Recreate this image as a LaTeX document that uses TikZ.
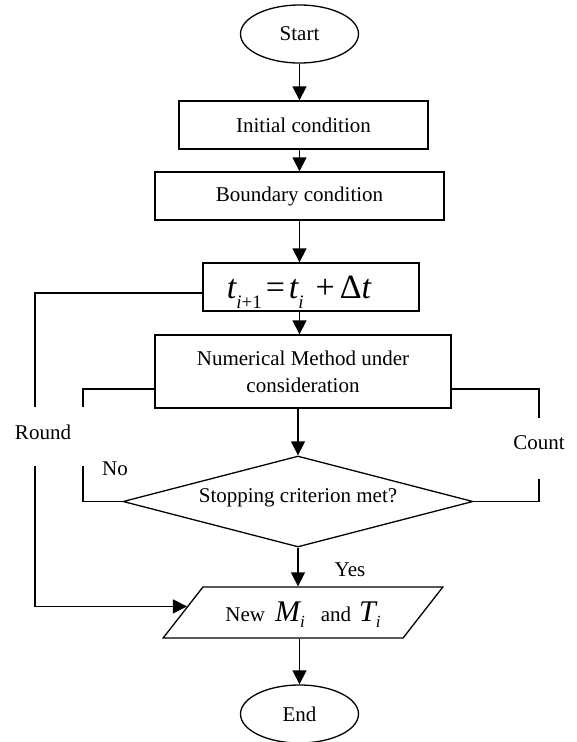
\documentclass[tikz,border=0pt]{standalone}
\usepackage{fontspec}
\setmainfont{Liberation Serif}
\usetikzlibrary{shapes.geometric,arrows.meta}
\begin{document}
\begin{tikzpicture}[x=1pt,y=-1pt,
  every node/.style={font=\fontsize{21}{27}\selectfont, inner sep=0pt},
  ln/.style={line width=1.3pt},
  arr/.style={ln, -{Triangle[width=14pt,length=14pt]}},
  term/.style={draw, ln, ellipse, minimum width=118pt, minimum height=58pt},
  procbox/.style={draw, ln, rectangle, align=center, minimum height=48pt},
  lbl/.style={},
  ]
\useasboundingbox (0,0) rectangle (576,742);
% nodes
\node[term] (start) at (299.5,34) {Start};
\node[procbox, minimum width=249pt] (init) at (303.5,125) {Initial condition};
\node[procbox, minimum width=289pt] (bound) at (299.5,196) {Boundary condition};
\node[procbox, minimum width=216pt, text height=26pt, text depth=3pt] (tbox) at (311,287)
  {{\fontsize{34}{34}\selectfont\itshape t\raisebox{-10pt}{\fontsize{19}{19}\selectfont i\upshape+1}\hspace{4pt}\upshape=\hspace{4pt}\itshape t\raisebox{-10pt}{\fontsize{19}{19}\selectfont i}\hspace{12pt}\upshape+\hspace{5pt}Δ\itshape t}\hspace{24pt}};
\node[procbox, minimum width=296pt, minimum height=73pt] (num) at (303,371.5) {Numerical Method under\\consideration};
\node[draw, ln, diamond, aspect=3.8, minimum width=350pt, minimum height=91pt, text height=10pt, text depth=9pt] (diam) at (298,501.5) {Stopping criterion met?};
\node[draw, ln, trapezium, trapezium stretches=true, trapezium left angle=35.5, trapezium right angle=144.5, minimum width=280pt, minimum height=51pt, text height=20pt, text depth=2pt] (para) at (303,612.5)
  {New\hspace{10pt}{\fontsize{30}{30}\selectfont\itshape M}\raisebox{-6pt}{\fontsize{17}{17}\selectfont\itshape i}\hspace{16pt}and\hspace{8pt}{\fontsize{30}{30}\selectfont\itshape T}\raisebox{-6pt}{\fontsize{17}{17}\selectfont\itshape i}\hspace{6pt}};
\node[term] (end) at (299.5,714) {End};
% labels
\node[lbl] (round) at (43,432) {Round};
\node[lbl] (count) at (539,443) {Count};
\node[lbl] (no) at (115,469) {No};
\node[lbl] (yes) at (350,570) {Yes};
% gap coordinates
\coordinate (ra) at (35,407);
\coordinate (rb) at (35,466);
\coordinate (na) at (83,407);
\coordinate (nb) at (83,466);
\coordinate (ca) at (539,418);
\coordinate (cb) at (539,479);
% main flow
\draw[arr] (start.south) -- (start.south |- init.north);
\draw[arr] (start |- init.south) -- (start |- bound.north);
\draw[arr] (start |- bound.south) -- (start |- tbox.north);
\draw[arr] (start |- tbox.south) -- (start |- num.north);
\draw[arr] (diam.north |- num.south) -- (diam.north);
\draw[arr] (diam.south) -- (diam.south |- para.north);
\draw[arr] (end |- para.south) -- (end.north);
% loops
\draw[ln] ([yshift=-6pt]tbox.west) -| (ra);
\draw[arr] (rb) |- (para.177);
\draw[ln] ([yshift=-17.5pt]num.west) -| (na);
\draw[ln] (nb) |- (diam.west);
\draw[ln] ([yshift=-17.5pt]num.east) -| (ca);
\draw[ln] (cb) |- (diam.east);
\end{tikzpicture}
\end{document}
